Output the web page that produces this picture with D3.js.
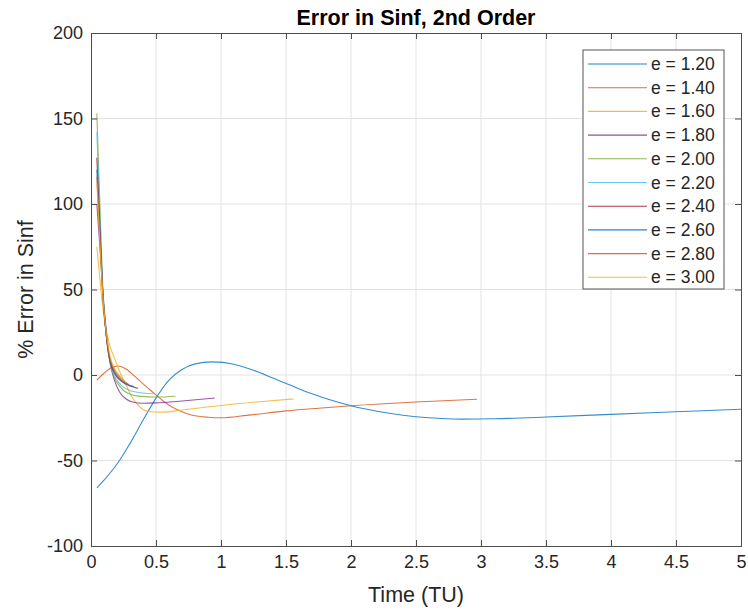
<!DOCTYPE html>
<html><head><meta charset="utf-8">
<script src="https://cdn.jsdelivr.net/npm/d3@7"></script>
<style>body{margin:0;background:#fff;} svg{display:block;font-family:"Liberation Sans",Arial,sans-serif;}</style>
</head><body>
<svg id="c" width="748" height="611"></svg>
<script>
const seriesNames = ["e = 1.20","e = 1.40","e = 1.60","e = 1.80","e = 2.00","e = 2.20","e = 2.40","e = 2.60","e = 2.80","e = 3.00"];
const seriesColors = ["#0072BD","#D95319","#EDB120","#7E2F8E","#77AC30","#4DBEEE","#A2142F","#0072BD","#D95319","#EDB120"];
const xTicks = [0,0.5,1,1.5,2,2.5,3,3.5,4,4.5,5];
const yTicks = [-100,-50,0,50,100,150,200];

const e120 = [[0.045,-66],[0.1,-61.5],[0.15,-57],[0.21,-51],[0.3,-40],[0.4,-26.5],[0.5,-13.5],[0.6,-3],[0.7,3.2],[0.8,6.5],[0.93,7.7],[1.1,6.3],[1.25,2.8],[1.4,-1.8],[1.55,-6.5],[1.7,-11],[1.85,-14.8],[2.0,-18],[2.2,-21.2],[2.4,-23.5],[2.6,-25],[2.85,-25.8],[3.1,-25.6],[3.5,-24.6],[4.0,-23],[4.5,-21.5],[5.0,-20]];
const e140 = [[0.045,-3],[0.1,1],[0.15,4],[0.21,5.3],[0.27,3.5],[0.34,-1],[0.42,-6.5],[0.49,-11],[0.56,-15.5],[0.62,-18.6],[0.7,-21.5],[0.78,-23.5],[0.9,-24.7],[1.0,-25],[1.2,-23.6],[1.5,-21],[1.75,-19.4],[2.0,-18],[2.5,-15.8],[2.97,-14.2]];
const e160 = [[0.045,75],[0.07,55],[0.09,40],[0.12,25],[0.15,16],[0.18,10],[0.22,2],[0.27,-6],[0.32,-13.5],[0.38,-19],[0.45,-21.5],[0.55,-21.7],[0.7,-20.5],[1.0,-17.8],[1.3,-15.6],[1.56,-14]];
const e180 = [[0.045,100],[0.06,84],[0.075,67],[0.09,50],[0.11,32],[0.13,17],[0.15,6],[0.18,-3],[0.22,-10],[0.27,-14],[0.32,-15.8],[0.4,-16.5],[0.5,-16.3],[0.7,-15.2],[0.95,-13.5]];
const e200 = [[0.045,153],[0.06,118],[0.075,84],[0.09,52],[0.11,30],[0.13,15],[0.15,6],[0.18,-1.5],[0.22,-6.5],[0.28,-10.5],[0.38,-12.5],[0.5,-12.9],[0.65,-12.4]];
const e220 = [[0.045,142],[0.06,111],[0.075,80],[0.09,50],[0.11,29],[0.13,15],[0.15,6],[0.18,-0.5],[0.22,-5],[0.3,-9],[0.4,-10.5],[0.48,-11]];
const e240 = [[0.045,127],[0.06,101],[0.075,75],[0.09,49],[0.11,29],[0.13,15],[0.15,7],[0.18,1],[0.24,-4],[0.3,-6.5],[0.36,-7.8]];
const e260 = [[0.045,120],[0.06,96],[0.075,72],[0.09,48],[0.11,29],[0.13,16],[0.15,8],[0.18,2],[0.24,-3.5],[0.33,-6.8]];
const e280 = [[0.045,116],[0.06,93],[0.075,70],[0.09,47],[0.11,29],[0.13,16],[0.15,8.5],[0.18,3],[0.23,-2],[0.29,-5.5]];
const e300 = [[0.045,112],[0.06,90],[0.075,68],[0.09,47],[0.11,30],[0.13,18],[0.15,10],[0.18,4],[0.22,-0.5],[0.26,-3.5]];
const seriesData = [e120,e140,e160,e180,e200,e220,e240,e260,e280,e300];

const svg = d3.select("#c");
const L=91,R=741,T=33,B=546;
const x = d3.scaleLinear().domain([0,5]).range([L,R]);
const y = d3.scaleLinear().domain([-100,200]).range([B,T]);
const axisCol="#4d4d4d", textCol="#262626";

// grid
svg.append("g").selectAll("line").data(xTicks.slice(1,-1)).join("line")
  .attr("x1",d=>x(d)).attr("x2",d=>x(d)).attr("y1",T).attr("y2",B)
  .attr("stroke","#e3e3e3").attr("stroke-width",1);
svg.append("g").selectAll("line").data(yTicks.slice(1,-1)).join("line")
  .attr("y1",d=>y(d)).attr("y2",d=>y(d)).attr("x1",L).attr("x2",R)
  .attr("stroke","#e3e3e3").attr("stroke-width",1);

// lines
const line = d3.line().x(d=>x(d[0])).y(d=>y(d[1])).curve(d3.curveMonotoneX);
svg.append("clipPath").attr("id","clp").append("rect").attr("x",L).attr("y",T).attr("width",R-L).attr("height",B-T);
svg.append("g").attr("clip-path","url(#clp)").selectAll("path").data(seriesData).join("path")
  .attr("d",line).attr("fill","none")
  .attr("stroke",(d,i)=>seriesColors[i]).attr("stroke-width",1.1).attr("stroke-opacity",0.8);

// axes
const fmt = d => String(d);
const xAxis = d3.axisBottom(x).tickValues(xTicks).tickSize(-6).tickPadding(9).tickFormat(fmt);
const yAxis = d3.axisLeft(y).tickValues(yTicks).tickSize(-6).tickPadding(8).tickFormat(fmt);
const gx = svg.append("g").attr("transform",`translate(0,${B})`).call(xAxis);
const gy = svg.append("g").attr("transform",`translate(${L},0)`).call(yAxis);
const gx2 = svg.append("g").attr("transform",`translate(0,${T})`).call(d3.axisTop(x).tickValues(xTicks).tickSize(-6).tickFormat(""));
const gy2 = svg.append("g").attr("transform",`translate(${R},0)`).call(d3.axisRight(y).tickValues(yTicks).tickSize(-6).tickFormat(""));
[gx,gy,gx2,gy2].forEach(g=>{
  g.select(".domain").attr("stroke",axisCol);
  g.selectAll(".tick line").attr("stroke",axisCol);
  g.selectAll("text").attr("fill",textCol).attr("font-size",18).attr("font-family","Liberation Sans, Arial, sans-serif");
});

// title & labels
svg.append("text").attr("x",(L+R)/2).attr("y",25).attr("text-anchor","middle")
  .attr("font-size",21.5).attr("font-weight","bold").attr("fill","#000").text("Error in Sinf, 2nd Order");
svg.append("text").attr("x",(L+R)/2).attr("y",602).attr("text-anchor","middle")
  .attr("font-size",21.5).attr("fill",textCol).text("Time (TU)");
svg.append("text").attr("transform",`translate(33,${(T+B)/2}) rotate(-90)`).attr("text-anchor","middle")
  .attr("font-size",21.5).attr("fill",textCol).text("% Error in Sinf");

// legend
const lg = svg.append("g");
lg.append("rect").attr("x",583).attr("y",50).attr("width",141).attr("height",239)
  .attr("fill","#fff").attr("stroke","#555").attr("stroke-width",1);
const rows = lg.selectAll("g").data(seriesNames).join("g")
  .attr("transform",(d,i)=>`translate(0,${64+i*23.7})`);
rows.append("line").attr("x1",588).attr("x2",647).attr("y1",0).attr("y2",0)
  .attr("stroke",(d,i)=>seriesColors[i]).attr("stroke-width",1.1).attr("stroke-opacity",0.85);
rows.append("text").attr("x",651).attr("y",6).attr("font-size",17.5).attr("fill",textCol).text(d=>d);
</script>
</body></html>
